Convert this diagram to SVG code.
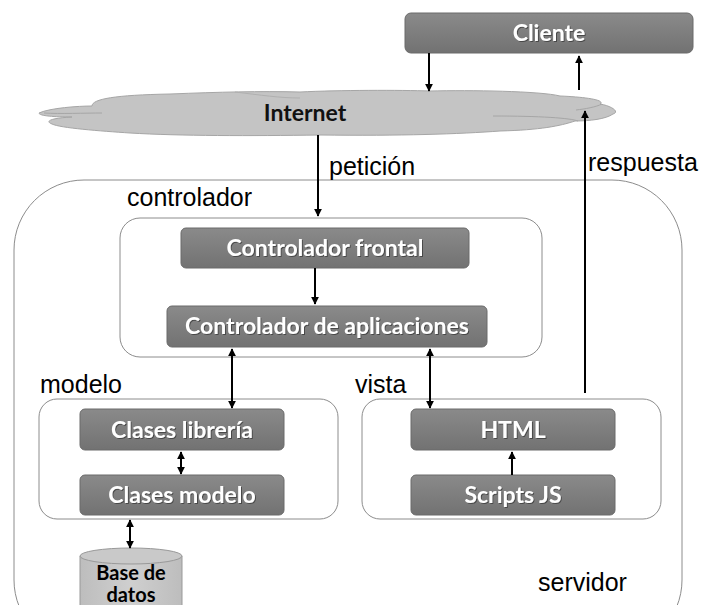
<svg xmlns="http://www.w3.org/2000/svg" width="701" height="605" viewBox="0 0 701 605">
<defs>
<linearGradient id="gbox" x1="0" y1="0" x2="0" y2="1">
<stop offset="0" stop-color="#8a8a8a"/>
<stop offset="1" stop-color="#727272"/>
</linearGradient>
<linearGradient id="gdb" x1="0" y1="0" x2="1" y2="0">
<stop offset="0" stop-color="#bdbdbd"/>
<stop offset="0.5" stop-color="#cfcfcf"/>
<stop offset="1" stop-color="#bdbdbd"/>
</linearGradient>
<filter id="ts" x="-10%" y="-20%" width="120%" height="140%">
<feDropShadow dx="1" dy="1" stdDeviation="0.6" flood-color="#333" flood-opacity="0.7"/>
</filter>
<marker id="ah" viewBox="0 0 10 10" refX="9" refY="5" markerWidth="8" markerHeight="8" markerUnits="userSpaceOnUse" orient="auto-start-reverse">
<path d="M0,0 L10,5 L0,10 Z" fill="#000"/>
</marker>
</defs>
<style>
.box{fill:url(#gbox);stroke:#6a6a6a;stroke-width:1}
.btxt{font-family:Lato,"Open Sans",sans-serif;font-weight:bold;font-size:23px;fill:#fff;text-anchor:middle}
.lbl{font-family:"Liberation Sans",Arial,sans-serif;font-size:25px;fill:#000}
.grp{fill:#fff;stroke:#8c8c8c;stroke-width:1}
.con{stroke:#000;stroke-width:2;fill:none}
.dtxt{font-family:Lato,"Open Sans",sans-serif;font-weight:bold;font-size:20px;fill:#000;text-anchor:middle}
</style>
<rect width="701" height="605" fill="#fff"/>

<g id="servidor">
<rect x="14" y="180" width="668" height="470" rx="70" ry="70" class="grp"/>
<text x="538" y="591" class="lbl">servidor</text>
</g>

<g id="cliente">
<rect x="405" y="13" width="288" height="40" rx="6" class="box"/>
<text x="549" y="41" class="btxt" filter="url(#ts)">Cliente</text>
</g>

<g id="internet">
<path d="M39,113 C50,108 78,106 92,106 C92,99 115,95 170,94 C220,92 260,91 300,92 C340,90 400,90 430,91 C470,90 540,91 560,96 C585,97 606,100 600,104 C612,106 620,112 613,114 C606,119 590,121 575,121 C560,126 540,130 500,131 C460,134 400,136 320,135 C250,136 180,136 130,133 C100,131 60,128 52,124 C44,121 52,118 72,117 C55,117 39,116 39,113 Z" fill="#c4c4c4" stroke="#a6a6a6" stroke-width="1"/>
<path d="M44,113 C60,114 85,113 102,113" fill="none" stroke="#a6a6a6" stroke-width="1"/>
<path d="M493,116 C540,116 570,118 578,121" fill="none" stroke="#a6a6a6" stroke-width="1"/>
<path d="M576,110 C585,109 596,107 602,104" fill="none" stroke="#a6a6a6" stroke-width="1"/>
<path d="M235,92 C260,95 280,98 300,98" fill="none" stroke="#b0b0b0" stroke-width="1"/>
<text x="305" y="121" font-family="Lato,'Open Sans',sans-serif" font-weight="bold" font-size="23" fill="#111" text-anchor="middle">Internet</text>
</g>

<g id="controlador">
<text x="127" y="206" class="lbl">controlador</text>
<rect x="120" y="218" width="422" height="139" rx="20" class="grp"/>
</g>
<g id="controlador-frontal">
<rect x="181" y="228" width="288" height="40" rx="5" class="box"/>
<text x="325" y="256" class="btxt" filter="url(#ts)">Controlador frontal</text>
</g>
<g id="controlador-aplicaciones">
<rect x="167" y="306" width="320" height="41" rx="5" class="box"/>
<text x="327" y="334" class="btxt" filter="url(#ts)">Controlador de aplicaciones</text>
</g>

<g id="modelo">
<text x="40" y="393" class="lbl">modelo</text>
<rect x="39" y="399" width="299" height="120" rx="18" class="grp"/>
</g>
<g id="clases-libreria">
<rect x="80" y="409" width="204" height="41" rx="5" class="box"/>
<text x="182" y="438" class="btxt" filter="url(#ts)">Clases librería</text>
</g>
<g id="clases-modelo">
<rect x="80" y="475" width="204" height="40" rx="5" class="box"/>
<text x="182" y="503" class="btxt" filter="url(#ts)">Clases modelo</text>
</g>

<g id="vista">
<text x="355" y="393" class="lbl">vista</text>
<rect x="362" y="399" width="299" height="120" rx="18" class="grp"/>
</g>
<g id="html">
<rect x="411" y="409" width="204" height="41" rx="5" class="box"/>
<text x="513" y="438" class="btxt" filter="url(#ts)">HTML</text>
</g>
<g id="scripts-js">
<rect x="411" y="475" width="204" height="40" rx="5" class="box"/>
<text x="513" y="503" class="btxt" filter="url(#ts)">Scripts JS</text>
</g>

<g id="base-de-datos">
<path d="M80,556 L80,615 A51,8 0 0 0 182,615 L182,556" fill="url(#gdb)" stroke="#999" stroke-width="1"/>
<ellipse cx="131" cy="556" rx="51" ry="8" fill="#c9c9c9" stroke="#999" stroke-width="1"/>
<text x="131" y="580" class="dtxt">Base de</text>
<text x="131" y="602" class="dtxt">datos</text>
</g>

<g id="connectors">
<line x1="429" y1="53" x2="429" y2="91" class="con" marker-end="url(#ah)"/>
<line x1="579" y1="90" x2="579" y2="56" class="con" marker-end="url(#ah)"/>
<line x1="318" y1="135" x2="318" y2="216" class="con" marker-end="url(#ah)"/>
<text x="329" y="175" class="lbl">petición</text>
<line x1="585" y1="393" x2="585" y2="111" class="con" marker-end="url(#ah)"/>
<text x="588" y="171" class="lbl">respuesta</text>
<line x1="315" y1="268" x2="315" y2="304" class="con" marker-end="url(#ah)"/>
<line x1="232" y1="349" x2="232" y2="408" class="con" marker-start="url(#ah)" marker-end="url(#ah)"/>
<line x1="430" y1="349" x2="430" y2="408" class="con" marker-start="url(#ah)" marker-end="url(#ah)"/>
<line x1="181" y1="452" x2="181" y2="474" class="con" marker-start="url(#ah)" marker-end="url(#ah)"/>
<line x1="512" y1="475" x2="512" y2="452" class="con" marker-end="url(#ah)"/>
<line x1="130" y1="520" x2="130" y2="548" class="con" marker-start="url(#ah)" marker-end="url(#ah)"/>
</g>
</svg>
